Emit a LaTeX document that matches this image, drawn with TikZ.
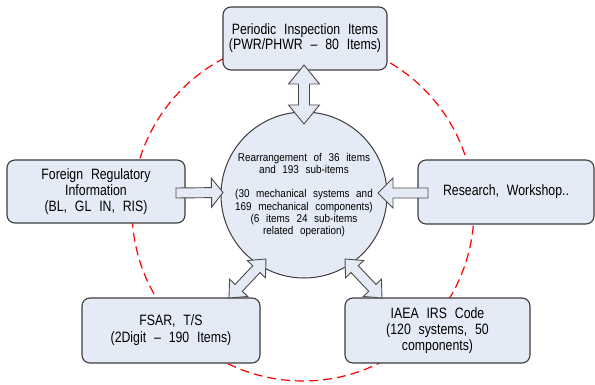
\documentclass[tikz,border=0pt]{standalone}
\usepackage{fontspec}
\setmainfont{Liberation Sans}[FakeStretch=0.82, WordSpace=2.3]
\newfontfamily\hubfont{Liberation Sans}[FakeStretch=0.88, WordSpace=2.4]
\usetikzlibrary{calc}
\definecolor{boxfill}{HTML}{E5EBF6}
\definecolor{boxline}{HTML}{3C3C3C}
\definecolor{arrline}{HTML}{4A4A4A}

\tikzset{
  infobox/.style={draw=boxline, fill=boxfill, line width=1.1pt, rounded corners=8pt,
    align=center, inner sep=0pt, font=\fontsize{15}{16}\selectfont},
  hub/.style={circle, draw=boxline, fill=boxfill, line width=1pt, minimum size=166pt,
    inner sep=0pt, align=center, font=\hubfont\fontsize{11.3}{12.3}\selectfont},
  blockarrow/.style={draw=arrline, fill=boxfill, line width=0.9pt, line join=miter},
  orbit/.style={draw=red, line width=1.2pt, dash pattern=on 9pt off 5pt}
}

% two-headed block arrow from #1 to #2; head length #3, head half-width #4, shaft half-width #5
\newcommand\twowayarrow[5]{%
  \draw[blockarrow] let \p1=(#1), \p2=(#2), \n1={atan2(\y2-\y1,\x2-\x1)},
      \n2={veclen(\x2-\x1,\y2-\y1)} in
    [shift={(\p1)}, rotate=\n1]
    (0,0) -- (#3,#4) -- (#3,#5) -- (\n2-#3,#5) -- (\n2-#3,#4) -- (\n2,0)
    -- (\n2-#3,-#4) -- (\n2-#3,-#5) -- (#3,-#5) -- (#3,-#4) -- cycle;}

% one-headed block arrow from tail #1 to tip #2; same parameters
\newcommand\onewayarrow[5]{%
  \draw[blockarrow] let \p1=(#1), \p2=(#2), \n1={atan2(\y2-\y1,\x2-\x1)},
      \n2={veclen(\x2-\x1,\y2-\y1)} in
    [shift={(\p1)}, rotate=\n1]
    (0,-#5) -- (\n2-#3,-#5) -- (\n2-#3,-#4) -- (\n2,0) -- (\n2-#3,#4)
    -- (\n2-#3,#5) -- (0,#5) -- cycle;}

\begin{document}
\begin{tikzpicture}[x=1pt, y=-1pt]
  \useasboundingbox (0,0) rectangle (595,385);

  % dashed orbit behind everything
  \draw[orbit] (303,210) circle [radius=171pt];

  % surrounding sources
  \node[infobox, minimum width=164pt, minimum height=63pt,
        font=\fontsize{15}{13}\selectfont] (pi) at (305,38.5)
    {Periodic Inspection Items\\(PWR/PHWR – 80 Items)};
  \node[infobox, minimum width=178pt, minimum height=63pt] (fr) at (96,191.5)
    {Foreign Regulatory\\Information\\(BL, GL IN, RIS)};
  \node[infobox, minimum width=176pt, minimum height=64pt] (rw) at (506,192)
    {Research, Workshop..};
  \node[infobox, minimum width=178pt, minimum height=65pt,
        font=\fontsize{15}{17}\selectfont] (fs) at (171,330.5)
    {FSAR, T/S\\(2Digit – 190 Items)};
  \node[infobox, minimum width=185pt, minimum height=65pt] (ia) at (437.5,330.5)
    {IAEA IRS Code\\(120 systems, 50\\components)};

  % central result
  \node[hub] (hub) at (304,195)
    {Rearrangement of 36 items\\and 193 sub-items\\[12.3pt]
     (30 mechanical systems and\\169 mechanical components)\\
     (6 items 24 sub-items\\related operation)};

  % arrow end points
  \coordinate (ta)  at (304,65);   \coordinate (tb)  at (304,124);
  \coordinate (la)  at (176,193);  \coordinate (lb)  at (223,192.5);
  \coordinate (ra)  at (428,193);  \coordinate (rb)  at (378,193);
  \coordinate (bla) at (266,259);  \coordinate (blb) at (229,298);
  \coordinate (bra) at (345,259);  \coordinate (brb) at (382,298);

  % block arrows
  \twowayarrow{ta}{tb}{19}{15.5}{5.5}
  \onewayarrow{la}{lb}{11.5}{14.5}{5}
  \onewayarrow{ra}{rb}{15}{15}{5}
  \twowayarrow{bla}{blb}{14}{12.5}{5}
  \twowayarrow{bra}{brb}{14}{12.5}{5}
\end{tikzpicture}
\end{document}
